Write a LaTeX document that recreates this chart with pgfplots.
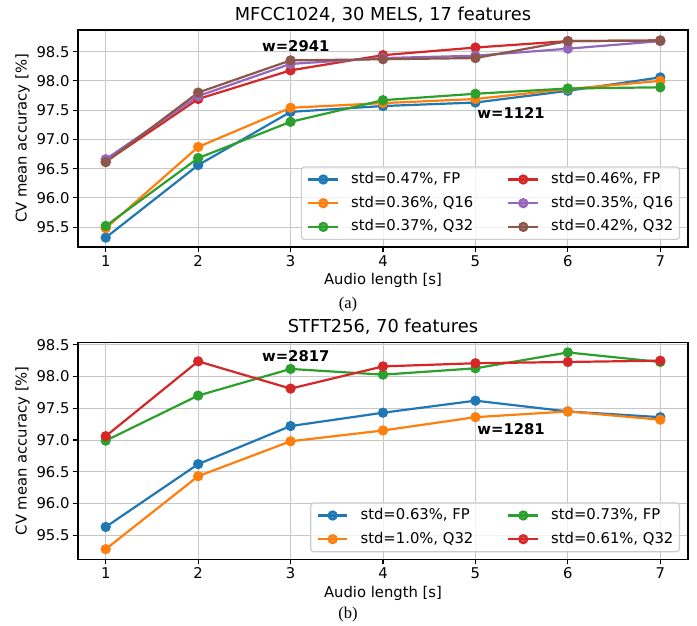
\documentclass[border=0pt]{standalone}
\usepackage{pgfplots}
\pgfplotsset{compat=1.18}
\usepackage{fontspec}
\setmainfont{DejaVu Sans}
\newfontfamily\capfont{Liberation Serif}
\definecolor{tabblue}{HTML}{1F77B4}
\definecolor{taborange}{HTML}{FF7F0E}
\definecolor{tabgreen}{HTML}{2CA02C}
\definecolor{tabred}{HTML}{D62728}
\definecolor{tabpurple}{HTML}{9467BD}
\definecolor{tabbrown}{HTML}{8C564B}
\newcommand{\fs}{\fontsize{14.8}{17}\selectfont}
\pgfplotsset{
  mystyle/.style={
    scale only axis, width=610pt, height=217pt,
    xmin=0.7, xmax=7.3,
    xtick={1,2,3,4,5,6,7},
    ytick={95.5,96,96.5,97,97.5,98,98.5},
    grid=major,
    grid style={color=black!22, line width=1pt},
    axis line style={line width=1.2pt},
    tick align=outside, major tick length=5pt,
    tick style={line width=1.2pt, black},
    tick pos=left,
    tick label style={font=\fs},
    label style={font=\fs},
    title style={font=\fontsize{17.8}{20}\selectfont, yshift=-2pt},
    /pgf/number format/assume math mode=true,
    yticklabel style={/pgf/number format/fixed, /pgf/number format/fixed zerofill, /pgf/number format/precision=1},
    xlabel={Audio length [s]},
    ylabel={CV mean accuracy [\%]},
    every axis plot/.append style={line width=2.2pt, mark=*, mark size=4pt},
    legend columns=2,
    legend cell align=left,
    legend image code/.code={\draw[mark repeat=2,mark phase=2] plot coordinates {(0pt,0pt)(14.8pt,0pt)(29.6pt,0pt)};},
    legend style={at={(1,0)}, anchor=south east, xshift=-8pt, yshift=7pt,
      draw=black!20, line width=1.2pt, rounded corners=3pt, fill=white, fill opacity=0.8, text opacity=1, draw opacity=1,
      font=\fs, row sep=9.7pt, inner xsep=6pt, inner ysep=5.5pt,
      nodes={inner sep=0pt, text height=11pt, text depth=3pt},
      /tikz/every odd column/.append style={column sep=12pt},
      /tikz/every even column/.append style={column sep=34pt}},
  }
}
\begin{document}
\begin{tikzpicture}
\path[use as bounding box] (0,0) rectangle (697pt,626pt);
\begin{axis}[mystyle, at={(78pt,379pt)}, anchor=south west,
  ymin=95.16, ymax=98.87, title={MFCC1024, 30 MELS, 17 features}]
\addplot[color=tabblue] coordinates {(1,95.32)(2,96.56)(3,97.47)(4,97.57)(5,97.63)(6,97.83)(7,98.06)};
\addlegendentry{std=0.47\%, FP}
\addplot[color=tabred] coordinates {(1,96.62)(2,97.69)(3,98.18)(4,98.44)(5,98.57)(6,98.68)(7,98.69)};
\addlegendentry{std=0.46\%, FP}
\addplot[color=taborange] coordinates {(1,95.48)(2,96.87)(3,97.54)(4,97.62)(5,97.69)(6,97.86)(7,98.00)};
\addlegendentry{std=0.36\%, Q16}
\addplot[color=tabpurple] coordinates {(1,96.66)(2,97.74)(3,98.29)(4,98.39)(5,98.43)(6,98.55)(7,98.68)};
\addlegendentry{std=0.35\%, Q16}
\addplot[color=tabgreen] coordinates {(1,95.52)(2,96.68)(3,97.30)(4,97.67)(5,97.78)(6,97.87)(7,97.89)};
\addlegendentry{std=0.37\%, Q32}
\addplot[color=tabbrown] coordinates {(1,96.61)(2,97.80)(3,98.35)(4,98.37)(5,98.39)(6,98.68)(7,98.69)};
\addlegendentry{std=0.42\%, Q32}
\node[anchor=west, inner sep=0pt, font=\bfseries\fs] at (axis cs:2.69,98.59) {w=2941};
\node[anchor=west, inner sep=0pt, font=\bfseries\fs] at (axis cs:5.02,97.45) {w=1121};
\end{axis}
\node[font=\capfont\fontsize{16.5}{18}\selectfont] at (348pt,321pt) {(a)};
\begin{axis}[mystyle, at={(78pt,66.7pt)}, anchor=south west,
  ymin=95.12, ymax=98.54, title={STFT256, 70 features}]
\addplot[color=tabblue] coordinates {(1,95.63)(2,96.62)(3,97.22)(4,97.43)(5,97.62)(6,97.45)(7,97.36)};
\addlegendentry{std=0.63\%, FP}
\addplot[color=tabgreen] coordinates {(1,96.99)(2,97.70)(3,98.12)(4,98.03)(5,98.13)(6,98.38)(7,98.23)};
\addlegendentry{std=0.73\%, FP}
\addplot[color=taborange] coordinates {(1,95.28)(2,96.43)(3,96.98)(4,97.15)(5,97.36)(6,97.45)(7,97.32)};
\addlegendentry{std=1.0\%, Q32}
\addplot[color=tabred] coordinates {(1,97.06)(2,98.24)(3,97.81)(4,98.16)(5,98.21)(6,98.23)(7,98.25)};
\addlegendentry{std=0.61\%, Q32}
\node[anchor=west, inner sep=0pt, font=\bfseries\fs] at (axis cs:2.69,98.32) {w=2817};
\node[anchor=west, inner sep=0pt, font=\bfseries\fs] at (axis cs:5.02,97.17) {w=1281};
\end{axis}
\node[font=\capfont\fontsize{16.5}{18}\selectfont] at (348pt,11pt) {(b)};
\end{tikzpicture}
\end{document}
